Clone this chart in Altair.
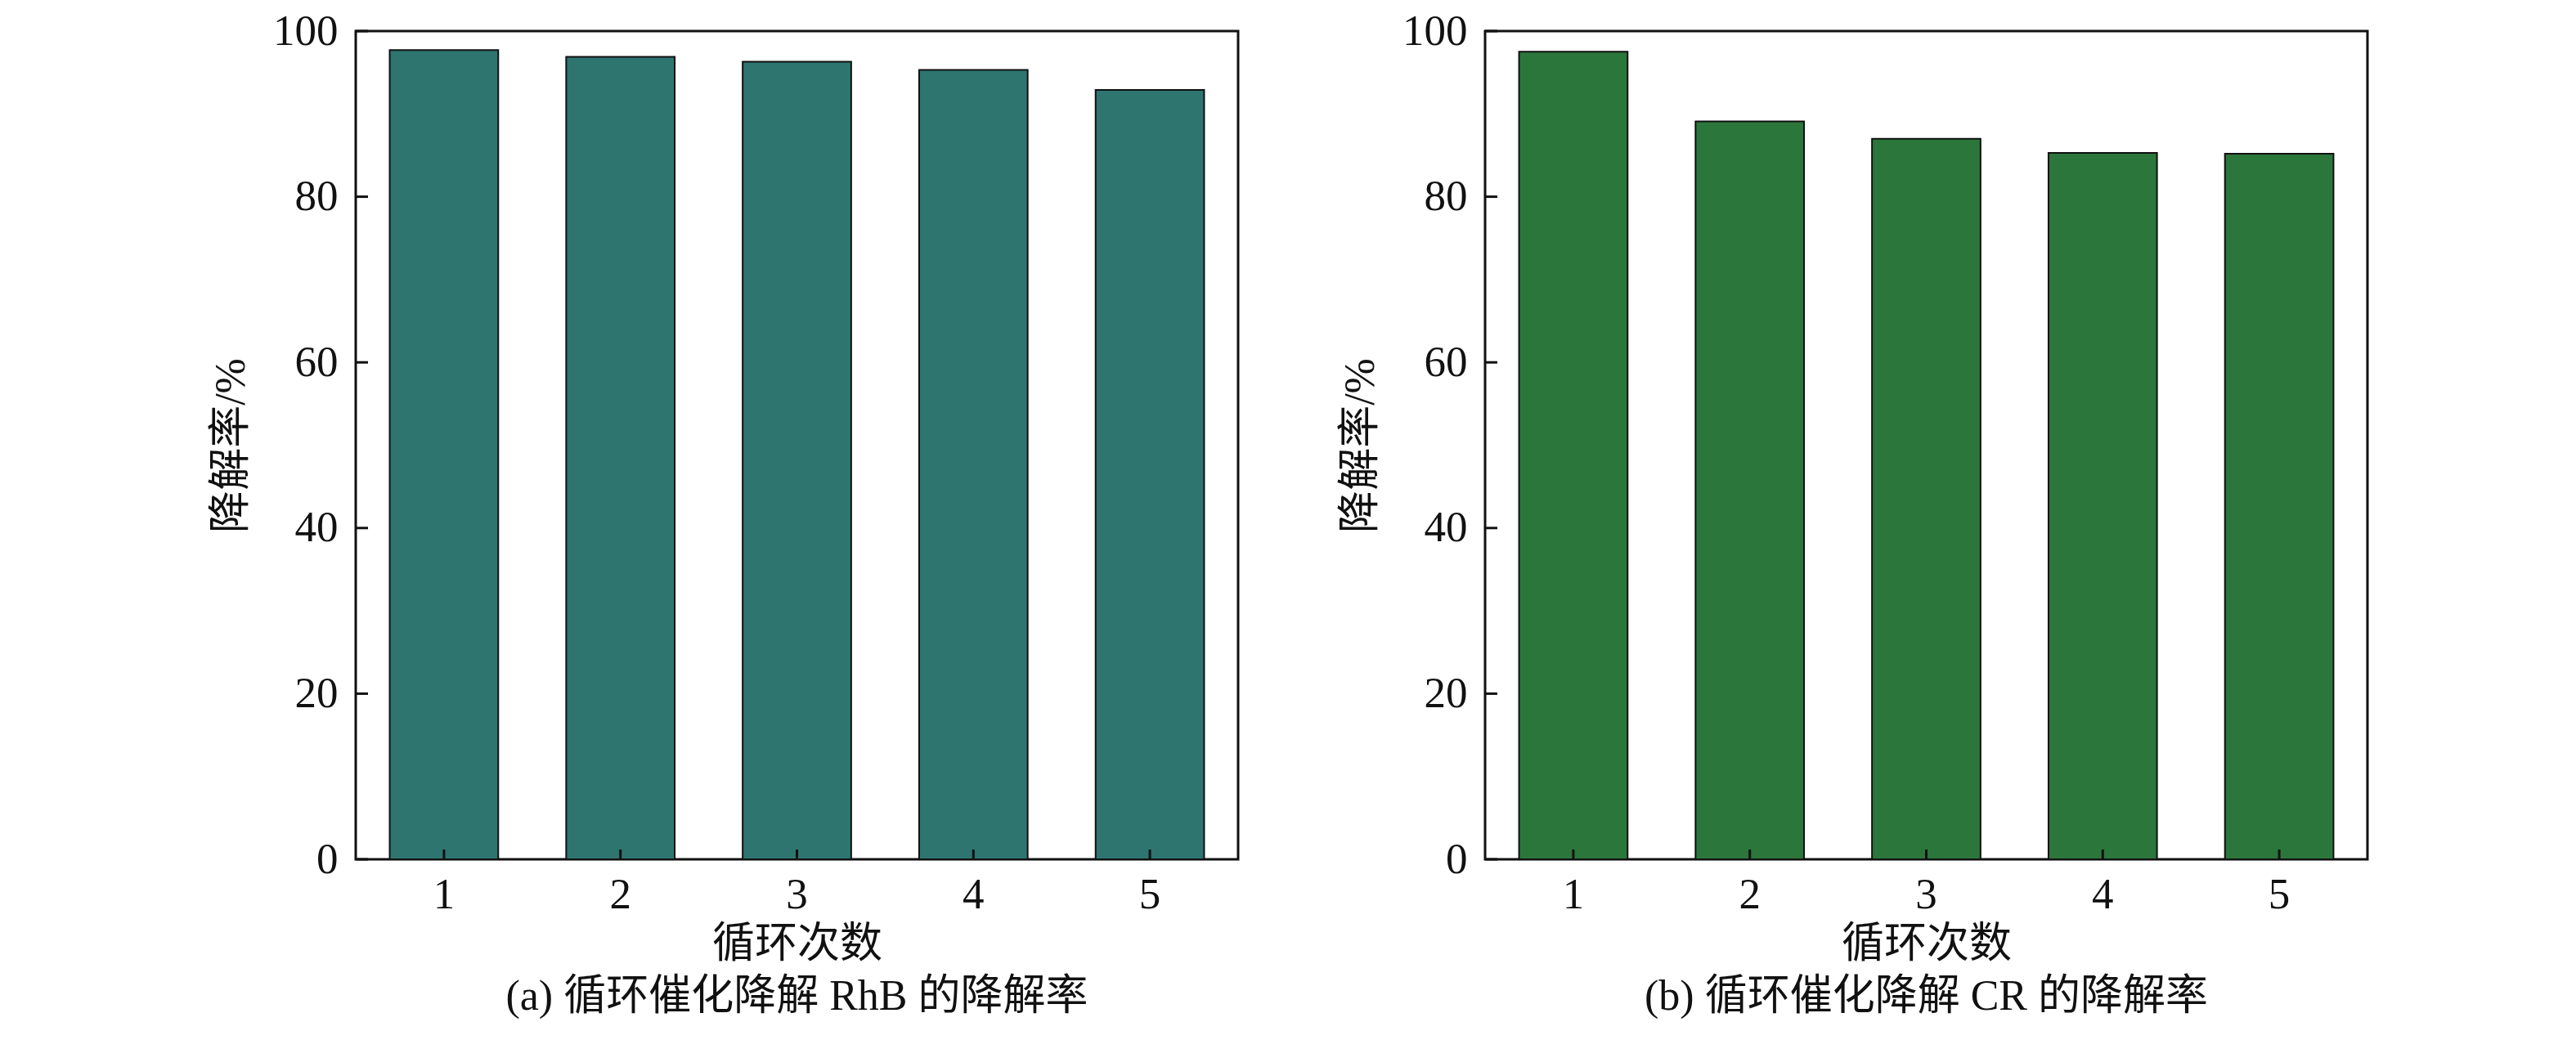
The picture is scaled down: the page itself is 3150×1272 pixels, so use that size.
import altair as alt
import pandas as pd

cycles = [1, 2, 3, 4, 5]
rate_rhb = [97.7, 96.9, 96.3, 95.3, 92.9]
rate_cr = [97.5, 89.1, 87.0, 85.3, 85.2]
y_ticks = [0, 20, 40, 60, 80, 100]

captions = ["(a) 循环催化降解 RhB 的降解率", "(b) 循环催化降解 CR 的降解率"]
colors = ["#2e7570", "#2b763b"]

FONT = "Liberation Serif, Times New Roman, Noto Sans CJK SC"
W, H = 1079, 1013
FS = 53


def panel(values, caption, color):
    df = pd.DataFrame({"cycle": cycles, "rate": values})
    tdf = pd.DataFrame({"t": y_ticks})
    cdf = pd.DataFrame({"cycle": cycles})

    xenc = alt.X(
        "cycle:O",
        title="循环次数",
        scale=alt.Scale(paddingInner=0.385, paddingOuter=0.1925),
        axis=alt.Axis(
            labelAngle=0, ticks=False, domain=False, labelPadding=17,
            titlePadding=8, labelFontSize=FS, titleFontSize=52,
            labelFont=FONT, titleFont=FONT, titleFontWeight="normal",
            labelColor="#111", titleColor="#111",
        ),
    )
    yscale = alt.Scale(domain=[0, 100], nice=False, zero=True)
    bars = alt.Chart(df).mark_bar(
        color=color, stroke="#111", strokeWidth=2
    ).encode(
        x=xenc,
        y=alt.Y(
            "rate:Q", title="降解率/%", scale=yscale,
            axis=alt.Axis(
                values=y_ticks, ticks=False, domain=False, grid=False,
                labelPadding=22, titlePadding=24, labelFontSize=FS,
                titleFontSize=52, labelFont=FONT, titleFont=FONT,
                titleFontWeight="normal", labelColor="#111", titleColor="#111",
            ),
        ),
    )
    yt = alt.Chart(tdf).mark_rule(color="#111", strokeWidth=3).encode(
        y=alt.Y("t:Q", scale=yscale),
        x=alt.value(0), x2=alt.value(15),
    )
    xt = alt.Chart(cdf).mark_rule(color="#111", strokeWidth=3).encode(
        x=alt.X("cycle:O"),
        y=alt.value(H - 12), y2=alt.value(H),
    )
    return alt.layer(bars, yt, xt).properties(
        width=W, height=H,
        title=alt.TitleParams(
            text=caption, orient="bottom", anchor="middle", frame="group",
            fontSize=52, fontWeight="normal", font=FONT, color="#111", offset=14,
        ),
    )


chart = alt.hconcat(
    panel(rate_rhb, captions[0], colors[0]),
    panel(rate_cr, captions[1], colors[1]),
    spacing=120,
).properties(
    padding={"left": 247, "top": 2, "right": 5, "bottom": 5},
    background="white",
).configure_view(stroke="#111", strokeWidth=3)

chart.save("out.html", embed_options={"renderer": "svg", "actions": False})
